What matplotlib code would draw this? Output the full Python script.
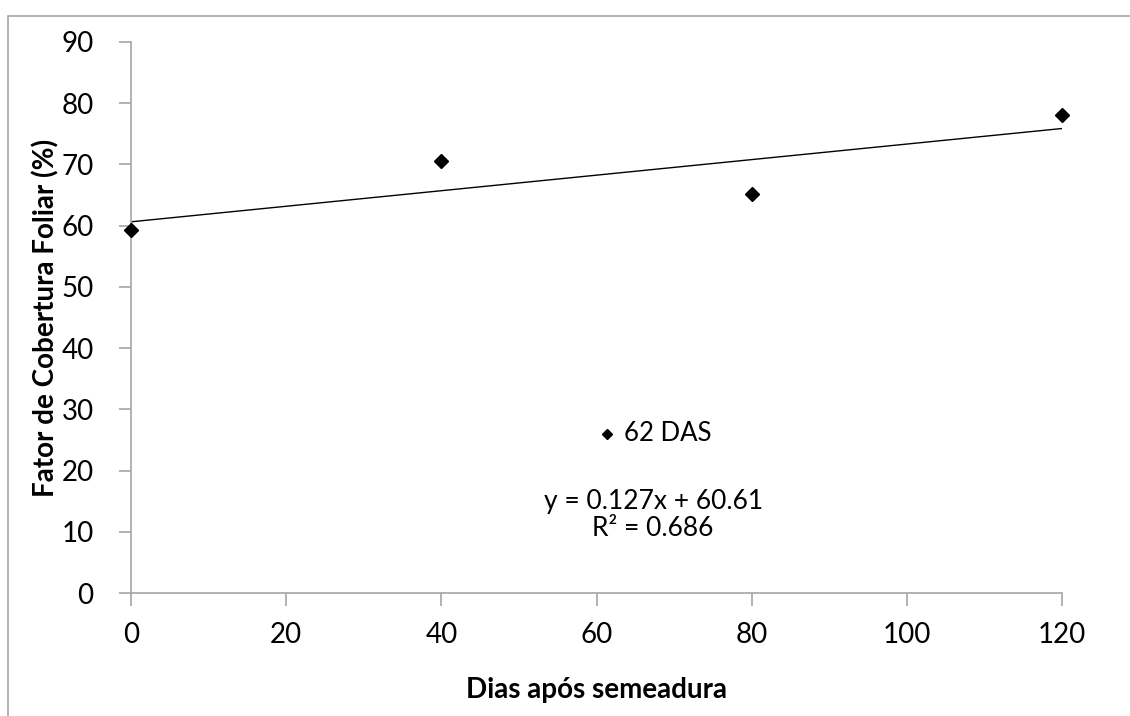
import matplotlib
matplotlib.use("Agg")
import matplotlib.pyplot as plt
from matplotlib.patches import Rectangle
import numpy as np

plt.rcParams['font.family'] = ['Lato', 'DejaVu Sans']

days = [0, 40, 80, 120]
cover = [59.3, 70.5, 65.2, 78.0]
series_label = "62 DAS"
equation_label = "y = 0.127x + 60.61"
r2_label = "R² = 0.686"
x_ticks = [0, 20, 40, 60, 80, 100, 120]
y_ticks = [0, 10, 20, 30, 40, 50, 60, 70, 80, 90]

fig = plt.figure(figsize=(11.3, 7.16), dpi=100)
ax = fig.add_axes([131/1130, 1-593/716, (1062-131)/1130, (593-42)/716])

# chart-area border (partially off canvas)
fig.patches.append(Rectangle((8/1130, -0.2), 1.2, 1.2 - 16/716,
                             transform=fig.transFigure, fill=False,
                             edgecolor='#a6a6a6', linewidth=1.2))

slope, intercept = np.polyfit(days, cover, 1)
xs = np.array([min(days), max(days)])
ax.plot(xs, slope * xs + intercept, color='black', linewidth=1.0, zorder=2)
ax.plot(days, cover, linestyle='none', marker='D', markersize=7, color='black',
        zorder=3, clip_on=False)

ax.set_xlim(0, 120)
ax.set_ylim(0, 90)
ax.set_xticks(x_ticks)
ax.set_yticks(y_ticks)
ax.set_xticklabels([str(v) for v in x_ticks])
ax.set_yticklabels([str(v) for v in y_ticks])
for side in ['top', 'right']:
    ax.spines[side].set_visible(False)
for side in ['left', 'bottom']:
    ax.spines[side].set_color('#a6a6a6')
    ax.spines[side].set_linewidth(1.2)
ax.tick_params(axis='both', direction='out', length=9, width=1.2, color='#a6a6a6',
               labelsize=20, labelcolor='black')
ax.tick_params(axis='x', pad=12)
ax.tick_params(axis='y', pad=18)

ax.set_xlabel("Dias após semeadura", fontsize=20, fontweight='bold', va='center')
ax.set_ylabel("Fator de Cobertura Foliar (%)", fontsize=20, fontweight='bold', va='center')
ax.xaxis.set_label_coords((596-131)/931, (593-690)/551)
ax.yaxis.set_label_coords((46-131)/931, (593-318)/551)

# legend-like annotation inside plot
ax.plot([61.3], [26], linestyle='none', marker='D', markersize=5.5, color='black')
ax.text(63.5, 26, series_label, fontsize=18.5, va='center', ha='left')
ax.text(67.3, 14.9, equation_label, fontsize=19, ha='center', va='center')
ax.text(67.3, 10.6, r2_label, fontsize=19, ha='center', va='center')

fig.savefig("out.png", dpi=100)
